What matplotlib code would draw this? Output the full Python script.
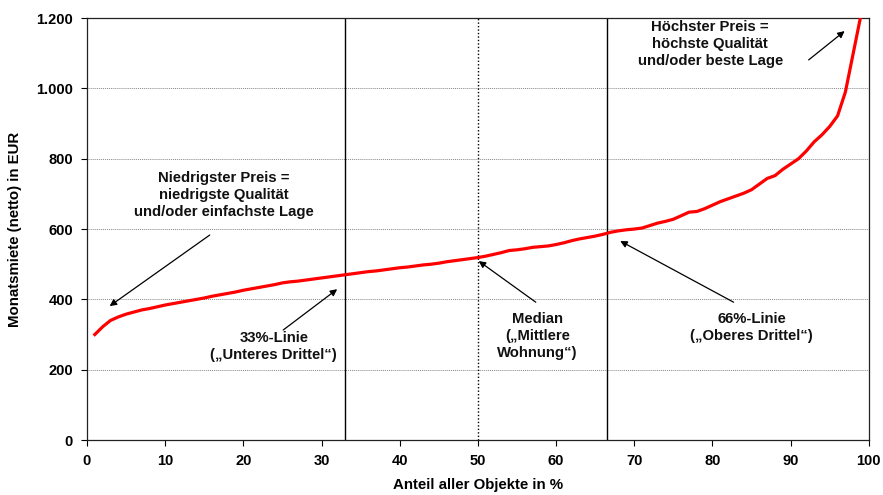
import matplotlib

matplotlib.use("Agg")
import matplotlib.pyplot as plt
from matplotlib.ticker import FuncFormatter

plt.rcParams["font.family"] = ["Liberation Sans", "DejaVu Sans"]
plt.rcParams["font.weight"] = "bold"

# share of all objects (%) and monthly rent (EUR)
share = list(range(1, 100))
rent = [
    300, 322, 340, 350, 358, 364, 370, 374, 379, 384,
    388, 392, 396, 400, 404, 409, 413, 417, 421, 426,
    430, 434, 438, 442, 447, 450, 452, 455, 458, 461,
    464, 467, 470, 473, 476, 479, 481, 484, 487, 490,
    492, 495, 498, 500, 503, 507, 510, 513, 516, 519,
    523, 528, 533, 539, 541, 544, 548, 550, 552, 556,
    561, 567, 572, 576, 580, 585, 591, 595, 598, 600,
    603, 610, 617, 622, 628, 638, 648, 650, 658, 668,
    678, 686, 694, 702, 712, 728, 744, 752, 770, 785,
    800, 822, 848, 868, 892, 922, 990, 1100, 1210,
]

lines_solid = [33, 66.5]
line_median = 50

x_ticks = list(range(0, 101, 10))
y_ticks = list(range(0, 1201, 200))

# (text, text position, arrow tail, arrow head)
notes = [
    ("Niedrigster Preis =\nniedrigste Qualität\nund/oder einfachste Lage",
     (17.5, 697), (15.7, 583), (2.9, 381)),
    ("33%-Linie\n(„Unteres Drittel“)", (23.9, 267), (25.1, 313), (32.0, 429)),
    ("Median\n(„Mittlere\nWohnung“)", (57.6, 296), (57.4, 392), (50.1, 509)),
    ("66%-Linie\n(„Oberes Drittel“)", (85.0, 320), (82.7, 392), (68.2, 566)),
    ("Höchster Preis =\nhöchste Qualität\nund/oder beste Lage",
     (79.7, 1126), (92.3, 1081), (96.9, 1163)),
]

fig = plt.figure(figsize=(8.83, 4.95), dpi=100)
ax = fig.add_axes([0.0985, 0.111, 0.8855, 0.8525])

for v in y_ticks[1:-1]:
    ax.axhline(v, color="#888888", lw=0.7, ls=(0, (1, 1)), zorder=1)
for v in lines_solid:
    ax.axvline(v, color="black", lw=1.0, zorder=2)
ax.axvline(line_median, color="black", lw=1.0, ls=(0, (1, 1.5)), zorder=2)

ax.plot(share, rent, color="#ff0000", lw=2.3, zorder=3)

for text, pos, tail, head in notes:
    ax.text(pos[0], pos[1], text, ha="center", va="center", fontsize=10.7,
            fontweight="bold", linespacing=1.3, color="#111111", zorder=4)
    ax.annotate("", xy=head, xytext=tail,
                arrowprops=dict(arrowstyle="-|>", color="black", lw=0.9,
                                mutation_scale=10, shrinkA=0, shrinkB=0),
                zorder=4)

ax.set_xlim(0, 100)
ax.set_ylim(0, 1200)
ax.set_xticks(x_ticks)
ax.set_yticks(y_ticks)
ax.yaxis.set_major_formatter(FuncFormatter(lambda v, p: f"{int(v):,}".replace(",", ".")))
ax.tick_params(direction="out", length=4, width=0.8, labelsize=10.5)
ax.tick_params(axis="x", pad=6)
ax.tick_params(axis="y", pad=6)
for lab in ax.get_xticklabels() + ax.get_yticklabels():
    lab.set_fontweight("bold")
for s in ax.spines.values():
    s.set_linewidth(0.9)
    s.set_color("#222222")

ax.set_xlabel("Anteil aller Objekte in %", fontsize=10.8, fontweight="bold", labelpad=7)
ax.set_ylabel("Monatsmiete (netto) in EUR", fontsize=10.8, fontweight="bold", labelpad=10)

fig.savefig("out.png", dpi=100)
